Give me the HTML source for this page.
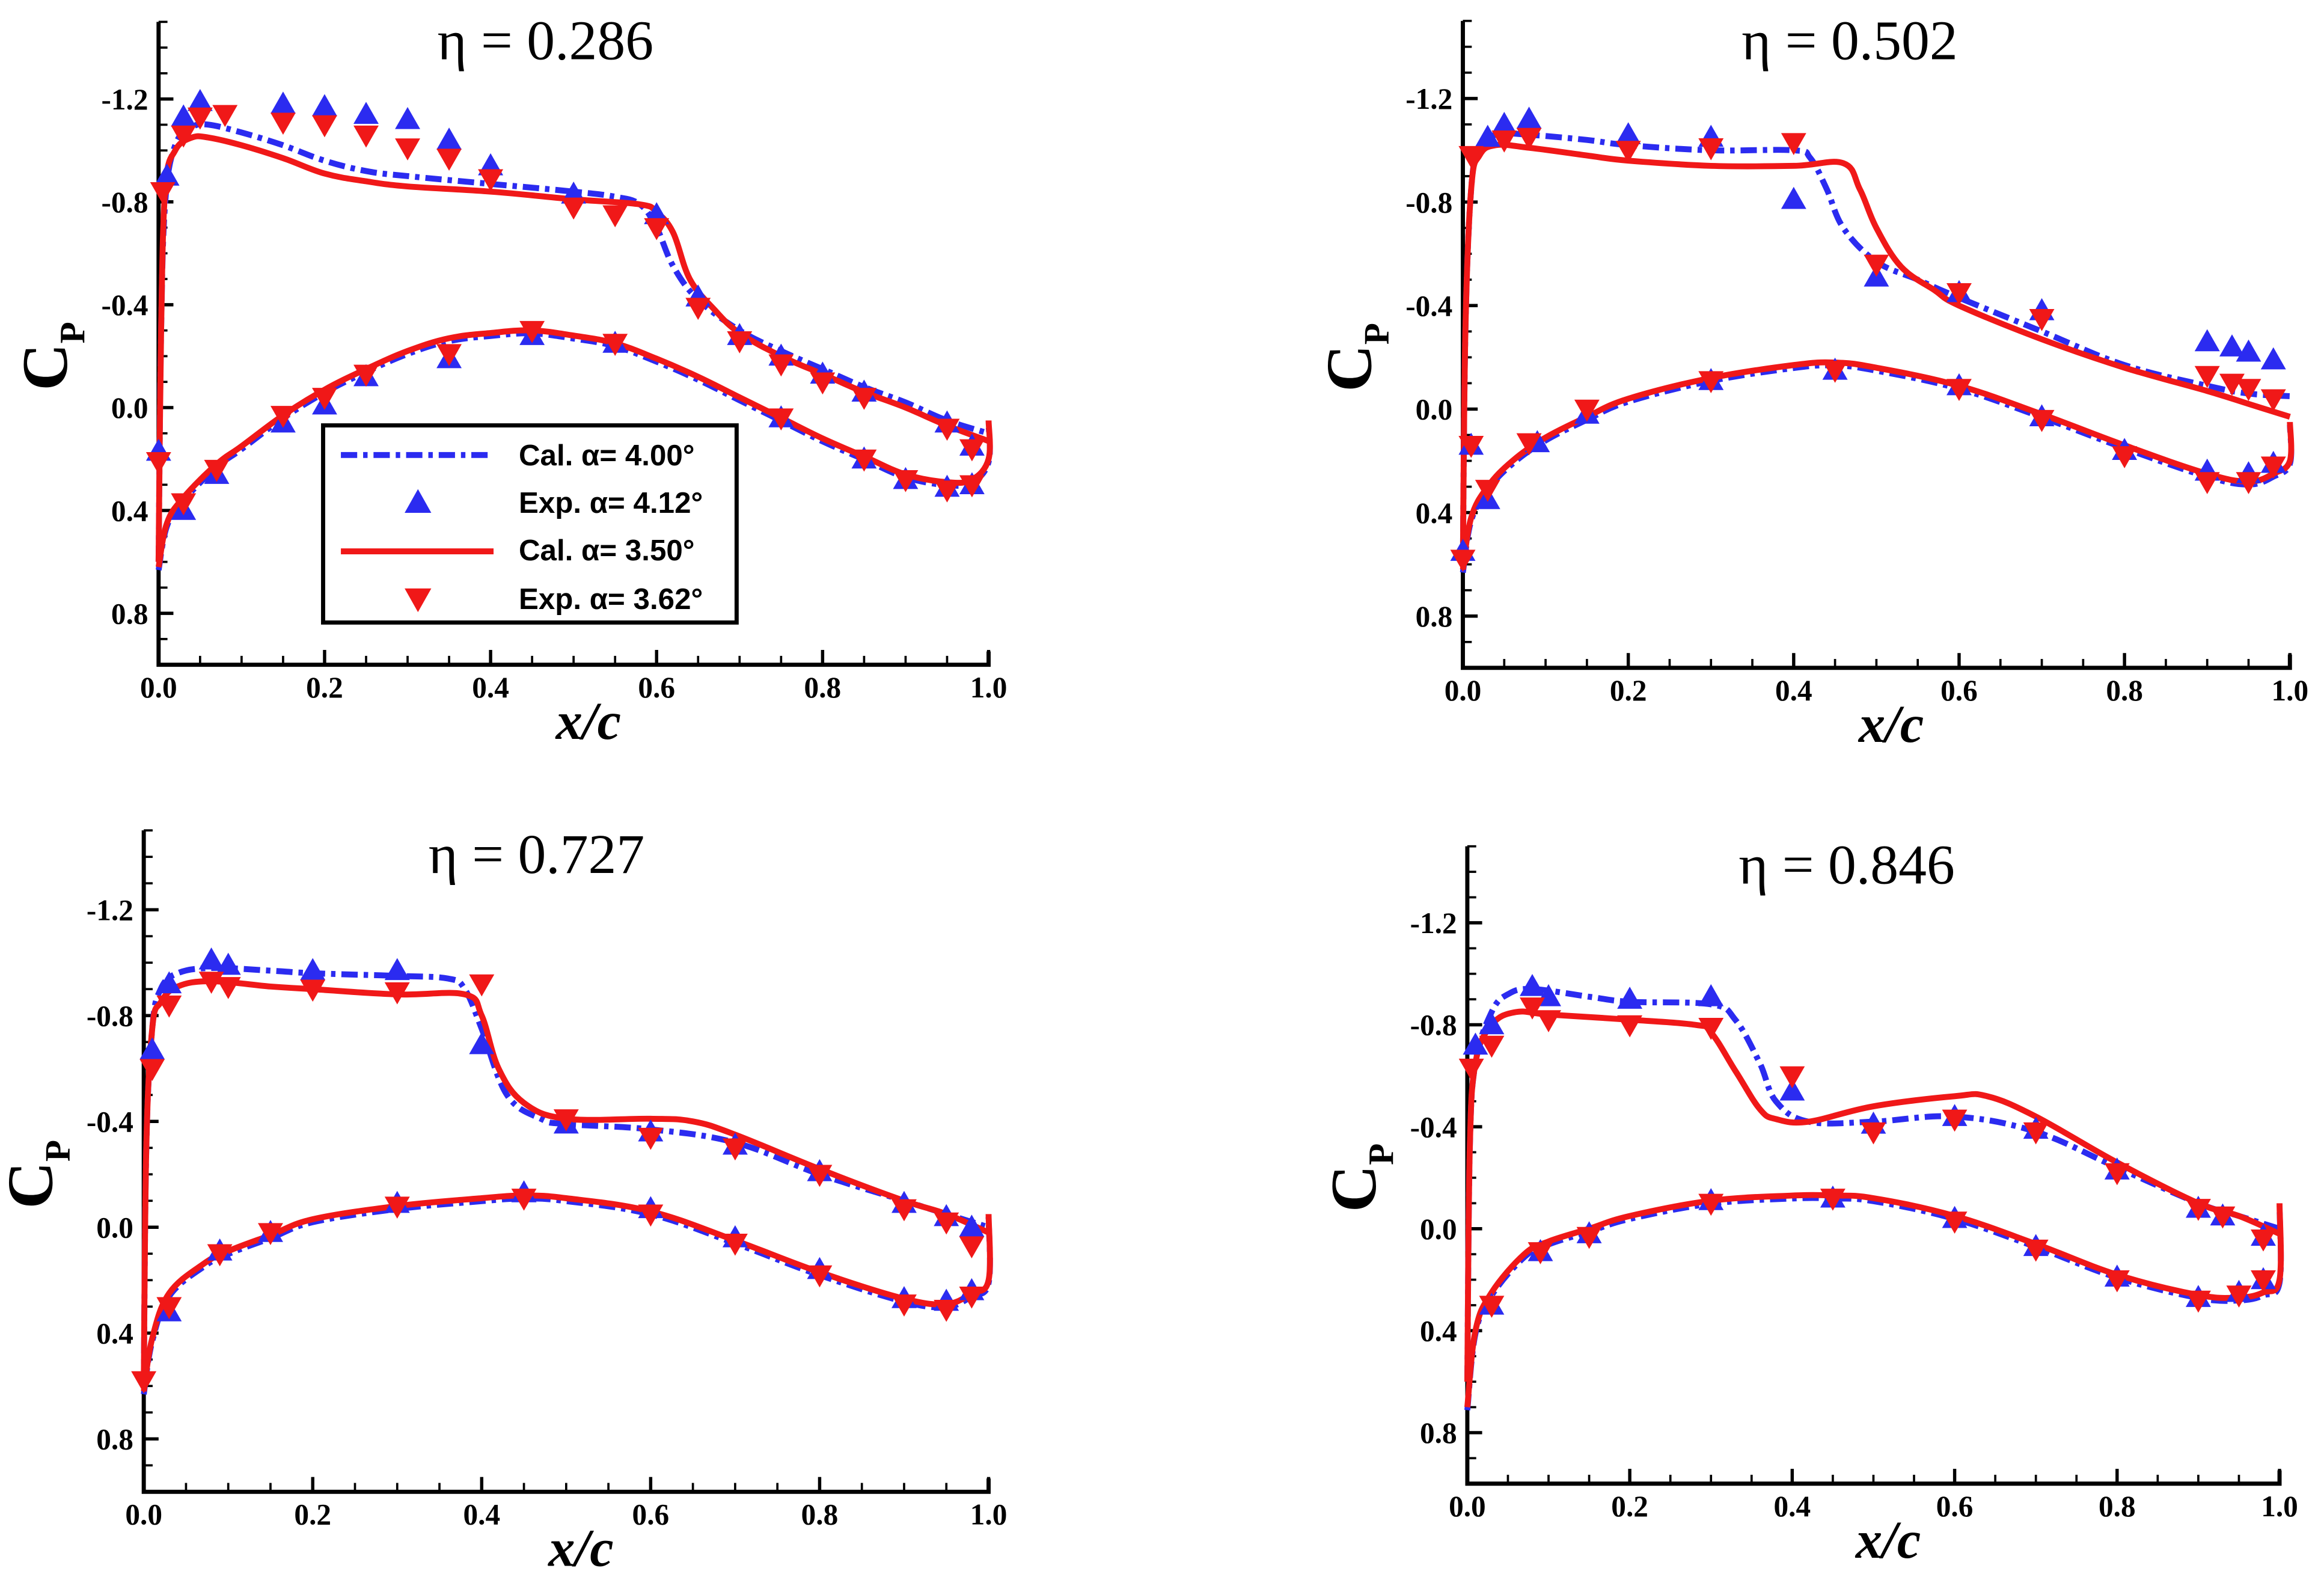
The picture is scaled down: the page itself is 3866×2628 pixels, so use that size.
<!DOCTYPE html>
<html><head><meta charset="utf-8"><style>
html,body{margin:0;padding:0;background:#fff;}
svg{display:block;}
</style></head><body>
<svg id="fig" width="3866" height="2628" viewBox="0 0 1568 1066" preserveAspectRatio="none" xmlns="http://www.w3.org/2000/svg"></svg>
<script>
// ---- data (x/c, Cp) ----
const xTicks = [0.0,0.2,0.4,0.6,0.8,1.0];
const xTickLabels = ["0.0","0.2","0.4","0.6","0.8","1.0"];
const yTicks = [-1.2,-0.8,-0.4,0.0,0.4,0.8];
const yTickLabels = ["-1.2","-0.8","-0.4","0.0","0.4","0.8"];
const etaLabels = ["η = 0.286","η = 0.502","η = 0.727","η = 0.846"];

// Panel 1
const p1BlueUpper = [[0,0.6],[0.003,-0.3],[0.008,-0.8],[0.02,-1.02],[0.04,-1.09],[0.06,-1.1],[0.1,-1.07],[0.15,-1.02],[0.2,-0.96],[0.25,-0.92],[0.3,-0.9],[0.4,-0.87],[0.5,-0.84],[0.55,-0.82],[0.58,-0.79],[0.6,-0.7],[0.62,-0.55],[0.65,-0.42],[0.7,-0.3],[0.75,-0.22],[0.8,-0.15],[0.85,-0.08],[0.9,-0.02],[0.95,0.05],[1.0,0.1]];
const p1RedUpper = [[0,0.6],[0.003,-0.3],[0.008,-0.85],[0.02,-1.0],[0.04,-1.05],[0.06,-1.05],[0.1,-1.02],[0.15,-0.97],[0.2,-0.91],[0.25,-0.88],[0.3,-0.86],[0.4,-0.84],[0.5,-0.81],[0.58,-0.79],[0.6,-0.76],[0.62,-0.68],[0.64,-0.5],[0.67,-0.38],[0.7,-0.29],[0.75,-0.2],[0.8,-0.13],[0.85,-0.06],[0.9,0.0],[0.95,0.07],[1.0,0.13]];
const p1Lower = [[0,0.62],[0.01,0.45],[0.03,0.35],[0.07,0.22],[0.1,0.15],[0.15,0.03],[0.2,-0.07],[0.25,-0.15],[0.3,-0.22],[0.35,-0.27],[0.4,-0.29],[0.45,-0.3],[0.5,-0.28],[0.55,-0.25],[0.6,-0.19],[0.65,-0.12],[0.7,-0.04],[0.75,0.04],[0.8,0.12],[0.85,0.19],[0.9,0.26],[0.95,0.29],[0.98,0.28],[1.0,0.2],[1.0,0.05]];
const p1BlueExp = [[0.01,-0.9],[0.03,-1.13],[0.05,-1.19],[0.15,-1.18],[0.2,-1.17],[0.25,-1.14],[0.3,-1.12],[0.35,-1.04],[0.4,-0.94],[0.5,-0.83],[0.6,-0.75],[0.65,-0.43],[0.7,-0.28],[0.75,-0.2],[0.8,-0.13],[0.85,-0.06],[0.95,0.06],[0.98,0.15],[0.0,0.17],[0.03,0.4],[0.07,0.26],[0.15,0.06],[0.2,-0.01],[0.25,-0.12],[0.35,-0.19],[0.45,-0.28],[0.55,-0.25],[0.75,0.04],[0.85,0.2],[0.9,0.28],[0.95,0.31],[0.98,0.3]];
const p1RedExp = [[0.005,-0.84],[0.03,-1.06],[0.05,-1.13],[0.08,-1.14],[0.15,-1.11],[0.2,-1.1],[0.25,-1.06],[0.3,-1.01],[0.35,-0.97],[0.4,-0.89],[0.5,-0.78],[0.55,-0.75],[0.6,-0.7],[0.65,-0.39],[0.7,-0.26],[0.75,-0.17],[0.8,-0.1],[0.85,-0.04],[0.95,0.08],[0.98,0.16],[0.0,0.21],[0.03,0.37],[0.07,0.24],[0.15,0.03],[0.2,-0.04],[0.25,-0.13],[0.35,-0.21],[0.45,-0.3],[0.55,-0.25],[0.75,0.04],[0.85,0.2],[0.9,0.28],[0.95,0.32],[0.98,0.3]];

// Panel 2
const p2BlueUpper = [[0,0.6],[0.003,-0.3],[0.01,-0.85],[0.02,-1.0],[0.04,-1.06],[0.08,-1.06],[0.15,-1.04],[0.2,-1.02],[0.3,-1.0],[0.4,-1.0],[0.42,-0.97],[0.44,-0.85],[0.46,-0.7],[0.5,-0.57],[0.55,-0.5],[0.6,-0.43],[0.7,-0.3],[0.8,-0.17],[0.9,-0.09],[0.95,-0.06],[1.0,-0.05]];
const p2RedUpper = [[0,0.6],[0.003,-0.3],[0.01,-0.85],[0.02,-0.98],[0.04,-1.02],[0.08,-1.01],[0.15,-0.98],[0.2,-0.96],[0.3,-0.94],[0.4,-0.94],[0.46,-0.95],[0.48,-0.85],[0.5,-0.7],[0.53,-0.55],[0.57,-0.46],[0.6,-0.4],[0.7,-0.27],[0.8,-0.16],[0.9,-0.07],[0.95,-0.02],[1.0,0.03]];
const p2Lower = [[0,0.62],[0.01,0.42],[0.03,0.3],[0.06,0.2],[0.1,0.11],[0.15,0.03],[0.2,-0.04],[0.3,-0.12],[0.4,-0.17],[0.45,-0.18],[0.5,-0.16],[0.6,-0.09],[0.7,0.02],[0.8,0.14],[0.9,0.25],[0.95,0.28],[0.98,0.25],[1.0,0.2],[1.0,0.05]];
const p2BlueExp = [[0.03,-1.05],[0.05,-1.1],[0.08,-1.12],[0.2,-1.06],[0.3,-1.05],[0.4,-0.81],[0.5,-0.51],[0.6,-0.45],[0.7,-0.38],[0.9,-0.26],[0.93,-0.24],[0.95,-0.22],[0.98,-0.19],[0.0,0.55],[0.01,0.14],[0.03,0.35],[0.09,0.13],[0.15,0.02],[0.3,-0.11],[0.45,-0.15],[0.6,-0.09],[0.7,0.03],[0.8,0.16],[0.9,0.24],[0.95,0.25],[0.98,0.21]];
const p2RedExp = [[0.01,-0.98],[0.05,-1.04],[0.08,-1.05],[0.2,-1.0],[0.3,-1.01],[0.4,-1.03],[0.5,-0.56],[0.6,-0.45],[0.7,-0.35],[0.9,-0.13],[0.93,-0.1],[0.95,-0.08],[0.98,-0.04],[0.0,0.58],[0.01,0.14],[0.03,0.31],[0.08,0.13],[0.15,0.0],[0.3,-0.11],[0.45,-0.15],[0.6,-0.08],[0.7,0.04],[0.8,0.18],[0.9,0.28],[0.95,0.28],[0.98,0.22]];

// Panel 3
const p3BlueUpper = [[0,0.6],[0.003,-0.3],[0.01,-0.75],[0.02,-0.9],[0.04,-0.96],[0.08,-0.98],[0.15,-0.97],[0.2,-0.96],[0.3,-0.95],[0.36,-0.94],[0.38,-0.9],[0.4,-0.75],[0.43,-0.5],[0.47,-0.41],[0.5,-0.39],[0.6,-0.37],[0.7,-0.32],[0.8,-0.2],[0.9,-0.1],[0.95,-0.05],[1.0,0.0]];
const p3RedUpper = [[0,0.6],[0.003,-0.3],[0.01,-0.75],[0.02,-0.85],[0.04,-0.91],[0.08,-0.93],[0.15,-0.91],[0.2,-0.9],[0.3,-0.88],[0.38,-0.88],[0.4,-0.8],[0.42,-0.6],[0.45,-0.47],[0.5,-0.41],[0.6,-0.41],[0.65,-0.4],[0.7,-0.35],[0.8,-0.22],[0.9,-0.1],[0.95,-0.05],[1.0,0.02]];
const p3Lower = [[0,0.62],[0.01,0.42],[0.03,0.25],[0.07,0.14],[0.1,0.09],[0.15,0.03],[0.2,-0.03],[0.3,-0.08],[0.4,-0.11],[0.45,-0.12],[0.5,-0.11],[0.6,-0.06],[0.7,0.05],[0.8,0.17],[0.9,0.27],[0.95,0.29],[0.98,0.25],[1.0,0.2],[1.0,-0.05]];
const p3BlueExp = [[0.01,-0.67],[0.03,-0.92],[0.08,-1.01],[0.1,-0.99],[0.2,-0.97],[0.3,-0.97],[0.4,-0.69],[0.5,-0.39],[0.6,-0.36],[0.7,-0.31],[0.8,-0.21],[0.9,-0.09],[0.95,-0.04],[0.98,0.0],[0.03,0.32],[0.09,0.09],[0.15,0.02],[0.3,-0.09],[0.45,-0.13],[0.6,-0.07],[0.7,0.04],[0.8,0.16],[0.9,0.27],[0.95,0.28],[0.98,0.24]];
const p3RedExp = [[0.01,-0.6],[0.03,-0.84],[0.08,-0.93],[0.1,-0.91],[0.2,-0.9],[0.3,-0.89],[0.4,-0.92],[0.5,-0.41],[0.6,-0.34],[0.7,-0.3],[0.8,-0.2],[0.9,-0.07],[0.95,-0.02],[0.98,0.07],[0.0,0.58],[0.03,0.3],[0.09,0.1],[0.15,0.02],[0.3,-0.08],[0.45,-0.11],[0.6,-0.05],[0.7,0.06],[0.8,0.18],[0.9,0.29],[0.95,0.31],[0.98,0.26]];

// Panel 4
const p4BlueUpper = [[0,0.6],[0.003,-0.3],[0.01,-0.65],[0.03,-0.85],[0.05,-0.92],[0.08,-0.94],[0.15,-0.91],[0.2,-0.89],[0.3,-0.88],[0.33,-0.82],[0.36,-0.65],[0.38,-0.5],[0.42,-0.42],[0.5,-0.42],[0.6,-0.44],[0.7,-0.38],[0.8,-0.24],[0.9,-0.1],[0.95,-0.05],[1.0,0.0]];
const p4RedUpper = [[0,0.6],[0.003,-0.3],[0.01,-0.65],[0.03,-0.8],[0.06,-0.85],[0.1,-0.84],[0.2,-0.82],[0.28,-0.8],[0.3,-0.77],[0.33,-0.62],[0.36,-0.47],[0.38,-0.43],[0.42,-0.42],[0.5,-0.48],[0.6,-0.52],[0.64,-0.52],[0.7,-0.44],[0.8,-0.26],[0.9,-0.1],[0.95,-0.05],[1.0,0.02]];
const p4Lower = [[0,0.7],[0.01,0.4],[0.03,0.25],[0.07,0.1],[0.1,0.05],[0.15,0.0],[0.2,-0.05],[0.3,-0.11],[0.4,-0.13],[0.45,-0.13],[0.5,-0.12],[0.6,-0.05],[0.7,0.06],[0.8,0.18],[0.9,0.26],[0.95,0.27],[0.98,0.25],[1.0,0.2],[1.0,-0.1]];
const p4BlueExp = [[0.01,-0.72],[0.03,-0.8],[0.08,-0.95],[0.1,-0.91],[0.2,-0.9],[0.3,-0.91],[0.4,-0.54],[0.5,-0.41],[0.6,-0.44],[0.7,-0.39],[0.8,-0.23],[0.9,-0.08],[0.93,-0.05],[0.98,0.03],[0.03,0.3],[0.09,0.09],[0.15,0.02],[0.3,-0.11],[0.45,-0.12],[0.6,-0.04],[0.7,0.07],[0.8,0.19],[0.9,0.27],[0.95,0.25],[0.98,0.2]];
const p4RedExp = [[0.005,-0.63],[0.03,-0.72],[0.08,-0.87],[0.1,-0.82],[0.2,-0.8],[0.3,-0.79],[0.4,-0.6],[0.5,-0.38],[0.6,-0.43],[0.7,-0.38],[0.8,-0.22],[0.9,-0.08],[0.93,-0.05],[0.98,0.04],[0.03,0.3],[0.09,0.09],[0.15,0.03],[0.3,-0.1],[0.45,-0.12],[0.6,-0.03],[0.7,0.08],[0.8,0.2],[0.9,0.28],[0.95,0.26],[0.98,0.2]];

const panels = [
  {x0:107,x1:667,yz:275,ys:173.5,tx:368,ty:40,bu:p1BlueUpper,ru:p1RedUpper,lo:p1Lower,be:p1BlueExp,re:p1RedExp},
  {x0:987,x1:1545,yz:276,ys:174.6,tx:1248,ty:40,bu:p2BlueUpper,ru:p2RedUpper,lo:p2Lower,be:p2BlueExp,re:p2RedExp},
  {x0:97,x1:667,yz:828,ys:178.5,tx:362,ty:589,bu:p3BlueUpper,ru:p3RedUpper,lo:p3Lower,be:p3BlueExp,re:p3RedExp},
  {x0:990,x1:1538,yz:829,ys:172,tx:1246,ty:596,bu:p4BlueUpper,ru:p4RedUpper,lo:p4Lower,be:p4BlueExp,re:p4RedExp}
];

const NS="http://www.w3.org/2000/svg";
const svg=document.getElementById('fig');
function mk(tag,attrs,parent){const e=document.createElementNS(NS,tag);for(const k in attrs)e.setAttribute(k,attrs[k]);(parent||svg).appendChild(e);return e;}
const BLUE="#2b2bf0", RED="#f01818";

function smoothD(pts){
  let d='M'+pts[0][0].toFixed(1)+','+pts[0][1].toFixed(1);
  for(let i=0;i<pts.length-1;i++){
    const p0=pts[i-1]||pts[i],p1=pts[i],p2=pts[i+1],p3=pts[i+2]||p2;
    const t=0.18;
    const c1=[p1[0]+(p2[0]-p0[0])*t,p1[1]+(p2[1]-p0[1])*t];
    const c2=[p2[0]-(p3[0]-p1[0])*t,p2[1]-(p3[1]-p1[1])*t];
    d+=` C${c1[0].toFixed(1)},${c1[1].toFixed(1)} ${c2[0].toFixed(1)},${c2[1].toFixed(1)} ${p2[0].toFixed(1)},${p2[1].toFixed(1)}`;
  }
  return d;
}

panels.forEach((p,pi)=>{
  const g=mk('g',{});
  
  
  const X=v=>p.x0+v*(p.x1-p.x0);
  const Y=v=>p.yz+v*p.ys;
  const yTop=Y(-1.5), yBot=Y(1.0);
  const ax=mk('path',{d:`M${p.x0},${yTop} L${p.x0},${yBot} L${p.x1},${yBot} L${p.x1},${yBot-9}`,fill:'none',stroke:'#000','stroke-width':2.8},g);
  
  
  for(let i=0;i<=20;i++){const v=i*0.05;const maj=i%4===0;
    const t=mk('line',{x1:X(v),x2:X(v),y1:yBot,y2:yBot-(maj?10:6),stroke:'#000','stroke-width':maj?2.2:1.5},g);
    
    }
  for(let i=-15;i<=10;i++){const v=i*0.1;const maj=(Math.abs(i)%4===0);
    const t=mk('line',{x1:p.x0,x2:p.x0+(maj?10:6),y1:Y(v),y2:Y(v),stroke:'#000','stroke-width':maj?2.2:1.5},g);
    
    }
  xTicks.forEach((v,i)=>{const t=mk('text',{x:X(v),y:yBot+22,'text-anchor':'middle','font-family':'Liberation Serif, serif','font-weight':'bold','font-size':20},g);
    t.textContent=xTickLabels[i];
    
    });
  yTicks.forEach((v,i)=>{const t=mk('text',{x:p.x0-7,y:Y(v)+7,'text-anchor':'end','font-family':'Liberation Serif, serif','font-weight':'bold','font-size':20},g);
    t.textContent=yTickLabels[i];
    
    });
  const xl=mk('text',{x:(p.x0+p.x1)/2+10,y:yBot+50,'text-anchor':'middle','font-family':'Liberation Serif, serif','font-weight':'bold','font-style':'italic','font-size':36},g);
  xl.textContent='x/c';
  
  
  const ycx=p.x0-62, ycy=Y(-0.2);
  const yl=mk('text',{x:ycx,y:ycy,transform:`rotate(-90 ${ycx} ${ycy})`,'text-anchor':'middle','font-family':'Liberation Serif, serif','font-weight':'bold','font-size':44},g);
  yl.innerHTML='C<tspan font-size="24" dy="12">P</tspan>';
  
  
  const tt=mk('text',{x:p.tx,y:p.ty,'text-anchor':'middle','font-family':'Liberation Serif, serif','font-size':38},g);
  tt.textContent=etaLabels[pi];
  
  
  const toD=arr=>smoothD(arr.map(q=>[X(q[0]),Y(q[1])]));
  const b1=mk('path',{d:toD(p.bu),fill:'none',stroke:BLUE,'stroke-width':4,'stroke-dasharray':'11,4,3,4'},g);
  
  
  const b2=mk('path',{d:toD(p.lo),fill:'none',stroke:BLUE,'stroke-width':4,'stroke-dasharray':'11,4,3,4',transform:'translate(0,2)'},g);
  
  
  const r1=mk('path',{d:toD(p.ru),fill:'none',stroke:RED,'stroke-width':4},g);
  
  
  const r2=mk('path',{d:toD(p.lo),fill:'none',stroke:RED,'stroke-width':4},g);
  
  
  const s=8.5;
  p.be.forEach(q=>{const cx=X(q[0]),cy=Y(q[1]);
    const m=mk('polygon',{points:`${cx},${cy-s} ${cx-s},${cy+s*0.75} ${cx+s},${cy+s*0.75}`,fill:BLUE},g);
    
    });
  p.re.forEach(q=>{const cx=X(q[0]),cy=Y(q[1]);
    const m=mk('polygon',{points:`${cx},${cy+s} ${cx-s},${cy-s*0.75} ${cx+s},${cy-s*0.75}`,fill:RED},g);
    
    });
});
</script>
<svg style="position:absolute;left:0;top:0" width="3866" height="2628" viewBox="0 0 1568 1066" preserveAspectRatio="none">
  <rect x="218" y="287" width="279" height="133" fill="#fff" stroke="#000" stroke-width="2.8"/>
  <line x1="230" y1="307" x2="333" y2="307" stroke="#2b2bf0" stroke-width="4" stroke-dasharray="11,4,3,4"/>
  <text x="350" y="314" font-family="Liberation Sans, sans-serif" font-weight="bold" font-size="20">Cal. α= 4.00°</text>
  <polygon points="282,330 273,346 291,346" fill="#2b2bf0"/>
  <text x="350" y="346" font-family="Liberation Sans, sans-serif" font-weight="bold" font-size="20">Exp. α= 4.12°</text>
  <line x1="230" y1="372" x2="333" y2="372" stroke="#f01818" stroke-width="4"/>
  <text x="350" y="378" font-family="Liberation Sans, sans-serif" font-weight="bold" font-size="20">Cal. α= 3.50°</text>
  <polygon points="282,413 273,397 291,397" fill="#f01818"/>
  <text x="350" y="411" font-family="Liberation Sans, sans-serif" font-weight="bold" font-size="20">Exp. α= 3.62°</text>
</svg>
</body></html>
